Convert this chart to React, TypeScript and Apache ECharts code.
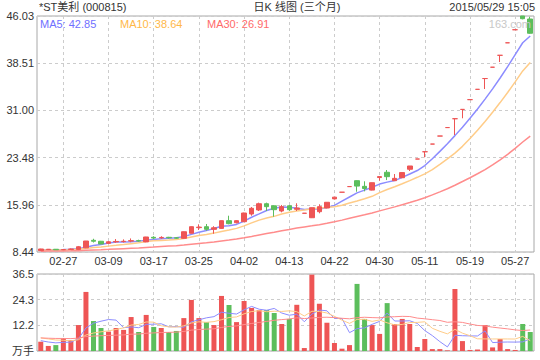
import React, { useEffect, useRef } from 'react';
import * as echarts from 'echarts';

const dates = [
  '02-17', '02-25', '02-26', '02-27', '03-02', '03-03', '03-04', '03-05', '03-06', '03-09',
  '03-10', '03-11', '03-12', '03-13', '03-16', '03-17', '03-18', '03-19', '03-20', '03-23',
  '03-24', '03-25', '03-26', '03-27', '03-30', '03-31', '04-01', '04-02', '04-03', '04-07',
  '04-08', '04-09', '04-10', '04-13', '04-14', '04-15', '04-16', '04-17', '04-20', '04-22',
  '04-23', '04-24', '04-27', '04-28', '04-29', '04-30', '05-04', '05-05', '05-06', '05-07',
  '05-08', '05-11', '05-12', '05-13', '05-14', '05-15', '05-18', '05-19', '05-20', '05-21',
  '05-22', '05-25', '05-26', '05-27', '05-28', '05-29',
];

const opens = [
  8.65, 8.82, 8.88, 8.80, 8.85, 8.85, 9.10, 10.30, 10.15, 9.82,
  10.05, 10.10, 10.18, 10.25, 10.05, 10.78, 10.70, 10.78, 10.70, 10.62,
  11.42, 12.32, 12.47, 12.05, 12.20, 13.43, 13.10, 13.27, 14.49, 15.13,
  16.13, 15.80, 14.97, 15.80, 15.24, 14.60, 13.90, 14.86, 15.45, 16.90,
  17.96, 18.86, 19.80, 18.90, 18.30, 20.30, 21.14, 19.80, 20.27, 21.62,
  23.25, 24.41, 25.63, 26.91, 28.26, 29.67, 31.15, 32.71, 34.35, 36.07,
  37.87, 39.77, 41.76, 43.84, 46.03, 45.55,
];

const closes = [
  8.92, 8.88, 8.80, 8.83, 8.92, 9.28, 10.19, 10.15, 9.72, 10.07,
  10.12, 10.15, 10.25, 10.20, 10.83, 10.66, 10.76, 10.70, 10.65, 11.67,
  12.47, 12.40, 12.05, 12.30, 13.43, 12.95, 13.43, 14.65, 15.40, 16.13,
  15.66, 15.18, 15.66, 15.18, 15.45, 14.62, 15.50, 15.66, 16.36, 17.18,
  17.96, 18.86, 18.94, 18.55, 19.48, 20.45, 20.44, 20.17, 21.09, 22.14,
  23.25, 24.41, 25.63, 26.91, 28.26, 29.67, 31.15, 32.71, 34.35, 36.07,
  37.87, 39.77, 41.76, 43.84, 45.60, 43.28,
];

const lows = [
  8.60, 8.78, 8.76, 8.75, 8.80, 8.75, 9.05, 9.95, 9.70, 9.75,
  9.90, 9.95, 10.00, 10.10, 10.00, 10.50, 10.55, 10.60, 10.55, 10.55,
  11.40, 11.94, 11.83, 11.35, 12.15, 12.85, 13.00, 13.20, 14.22, 14.97,
  14.97, 14.06, 14.76, 15.00, 14.97, 14.60, 13.85, 14.60, 15.40, 16.80,
  17.96, 18.86, 18.04, 18.10, 18.25, 19.80, 19.90, 19.75, 20.20, 21.34,
  23.25, 23.52, 25.63, 26.91, 28.26, 27.08, 29.74, 32.71, 34.35, 34.40,
  37.87, 38.70, 41.76, 43.84, 45.50, 43.20,
];

const highs = [
  8.95, 8.92, 8.90, 8.90, 9.00, 9.40, 10.20, 10.55, 10.20, 10.20,
  10.50, 10.45, 10.60, 10.40, 10.85, 10.95, 10.95, 10.85, 10.80, 11.70,
  12.50, 12.85, 12.90, 12.55, 13.45, 14.22, 13.50, 14.70, 15.60, 16.30,
  16.30, 15.85, 15.93, 15.93, 16.20, 14.62, 15.52, 16.04, 16.40, 17.18,
  17.96, 18.86, 19.86, 19.70, 19.50, 20.45, 21.50, 20.86, 21.10, 22.14,
  23.25, 24.41, 25.63, 26.91, 28.26, 29.67, 31.15, 32.71, 34.35, 36.07,
  37.87, 39.77, 41.76, 43.84, 46.03, 45.90,
];

// volume in 万手
const volumes = [
  4.4, 2.4, 2.8, 6.2, 5.2, 12.3, 28.0, 14.2, 10.9, 9.2,
  10.9, 10.0, 16.1, 9.0, 17.1, 11.4, 10.9, 9.0, 9.5, 15.6,
  24.2, 15.6, 13.7, 12.3, 26.1, 21.8, 13.7, 23.7, 20.4, 19.4,
  19.4, 18.0, 12.8, 15.2, 21.9, 1.4, 36.2, 22.4, 13.4, 3.8,
  1.1, 2.8, 31.8, 15.2, 12.3, 8.1, 22.7, 12.8, 15.2, 12.8,
  1.9, 5.7, 0.9, 0.9, 0.3, 29.4, 4.7, 0.5, 0.7, 12.3,
  1.7, 5.7, 0.9, 0.5, 12.8, 9.0,
];

// sessions before the visible window (only feed the moving averages)
const priorCloses = [
  8.32, 8.40, 8.36, 8.45, 8.41, 8.38, 8.47, 8.52, 8.49, 8.44,
  8.50, 8.56, 8.53, 8.48, 8.55, 8.60, 8.58, 8.52, 8.57, 8.63,
  8.61, 8.66, 8.70, 8.64, 8.68, 8.72, 8.75, 8.71, 8.78,
];
const priorVolumes = [
  6.8, 5.9, 6.4, 7.1, 5.6, 6.2, 6.9, 5.4, 6.0, 6.7,
  5.8, 6.5, 7.0, 5.7, 6.3, 5.5, 6.6, 6.1, 5.9, 5.6,
  7.2, 7.9, 7.4, 7.6, 7.4, 5.6, 4.8, 5.1, 4.6,
];

const priceTicks = [8.44, 15.96, 23.48, 31.0, 38.51, 46.03];
const volumeTicks = [0, 12.17, 24.33, 36.5];
const labelDates = ['02-27', '03-09', '03-17', '03-25', '04-02', '04-13', '04-22', '04-30', '05-11', '05-19', '05-27'];

const UP = '#ee5555';
const DOWN = '#5cbe5c';
const MA5C = '#8c8cff';
const MA10C = '#ffcc88';
const MA30C = '#ff8c8c';
const FONT = '"Liberation Sans", Arial, "Noto Sans CJK SC", sans-serif';

function movingAverage(values: number[], prior: number[], n: number): number[] {
  const all = prior.concat(values);
  const off = prior.length;
  return values.map((_, i) => {
    const end = off + i;
    let s = 0;
    for (let k = end - n + 1; k <= end; k++) s += all[k];
    return +(s / n).toFixed(3);
  });
}

export default function App() {
  const ref = useRef<HTMLDivElement>(null);

  useEffect(() => {
    document.body.style.margin = '0';
    if (!ref.current) return;
    const chart = echarts.init(ref.current, undefined, { renderer: 'svg' });

    const ma5 = movingAverage(closes, priorCloses, 5);
    const ma10 = movingAverage(closes, priorCloses, 10);
    const ma30 = movingAverage(closes, priorCloses, 30);
    const vma5 = movingAverage(volumes, priorVolumes, 5);
    const vma10 = movingAverage(volumes, priorVolumes, 10);
    const vma30 = movingAverage(volumes, priorVolumes, 30);
    const last = closes.length - 1;

    const signs = closes.map((c, i) => {
      if (c > opens[i]) return 1;
      if (c < opens[i]) return -1;
      return i === 0 || c >= closes[i - 1] ? 1 : -1;
    });

    const candles = dates.map((_, i) => [opens[i], closes[i], lows[i], highs[i]]);
    const volData = volumes.map((v, i) => ({ value: v, itemStyle: { color: signs[i] > 0 ? UP : DOWN } }));

    const showDate = (_i: number, v: string) => labelDates.includes(v);
    const dashed = { color: '#cccccc', width: 1, type: [3, 3] as any };
    const labelStyle = { color: '#333', fontSize: 11, fontFamily: FONT };

    const xBase = (gridIndex: number, showLabel: boolean) => ({
      type: 'category',
      gridIndex,
      data: dates,
      boundaryGap: true,
      axisLine: { show: false },
      axisTick: { show: false },
      axisLabel: { show: showLabel, interval: showDate, margin: 3, ...labelStyle },
      splitLine: { show: true, interval: showDate, alignWithLabel: true, lineStyle: dashed },
    });

    const lineSeries = (name: string, data: number[], color: string, axis: number, width: number) => ({
      name,
      type: 'line',
      xAxisIndex: axis,
      yAxisIndex: axis,
      data,
      symbol: 'none',
      smooth: false,
      lineStyle: { color, width },
      itemStyle: { color },
      z: 3,
    });

    const text = (x: number, y: number, t: string, fill: string, align: string) => ({
      type: 'text',
      x,
      y,
      z: 10,
      style: { text: t, fill, font: `11px ${FONT}`, align, verticalAlign: 'middle' },
    });

    chart.setOption({
      animation: false,
      backgroundColor: '#ffffff',
      grid: [
        { left: 37, right: 6, top: 16, height: 236, show: true, borderColor: '#a8a8a8', borderWidth: 1 },
        { left: 37, right: 6, top: 274, height: 77, show: true, borderColor: '#a8a8a8', borderWidth: 1 },
      ],
      xAxis: [xBase(0, true), xBase(1, false)],
      yAxis: [
        {
          type: 'value',
          gridIndex: 0,
          min: priceTicks[0],
          max: priceTicks[priceTicks.length - 1],
          axisLine: { show: false },
          axisTick: { show: false, customValues: priceTicks },
          axisLabel: { customValues: priceTicks, formatter: (v: number) => v.toFixed(2), margin: 3, ...labelStyle },
          splitLine: { show: true, lineStyle: dashed },
        },
        {
          type: 'value',
          gridIndex: 1,
          min: volumeTicks[0],
          max: volumeTicks[volumeTicks.length - 1],
          axisLine: { show: false },
          axisTick: { show: false, customValues: volumeTicks },
          axisLabel: {
            customValues: volumeTicks,
            formatter: (v: number) => (v === 0 ? '万手' : v.toFixed(1)),
            margin: 3,
            ...labelStyle,
          },
          splitLine: { show: true, lineStyle: dashed },
        },
      ],
      series: [
        {
          type: 'candlestick',
          xAxisIndex: 0,
          yAxisIndex: 0,
          data: candles,
          barWidth: 5,
          itemStyle: { color: UP, color0: DOWN, borderColor: UP, borderColor0: DOWN, borderWidth: 1 },
          z: 4,
        },
        lineSeries('MA5', ma5, MA5C, 0, 1.5),
        lineSeries('MA10', ma10, MA10C, 0, 1.5),
        lineSeries('MA30', ma30, MA30C, 0, 1.5),
        {
          type: 'bar',
          xAxisIndex: 1,
          yAxisIndex: 1,
          data: volData,
          barWidth: 5,
          z: 2,
        },
        lineSeries('VMA5', vma5, MA5C, 1, 1),
        lineSeries('VMA10', vma10, MA10C, 1, 1),
        lineSeries('VMA30', vma30, MA30C, 1, 1),
      ],
      graphic: [
        text(39, 7, '*ST美利 (000815)', '#333', 'left'),
        text(297, 7, '日K 线图 (三个月)', '#333', 'center'),
        text(535, 7, '2015/05/29 15:05', '#333', 'right'),
        text(40, 24, `MA5: ${ma5[last].toFixed(2)}`, '#7070ff', 'left'),
        text(120, 24, `MA10: ${ma10[last].toFixed(2)}`, '#ffb848', 'left'),
        text(207, 24, `MA30: ${ma30[last].toFixed(2)}`, '#ff6a6a', 'left'),
        text(531, 24, '163.com', '#c8c8c8', 'right'),
      ],
    });

    return () => chart.dispose();
  }, []);

  return <div ref={ref} style={{ width: 540, height: 360, position: 'absolute', left: 0, top: 0 }} />;
}
